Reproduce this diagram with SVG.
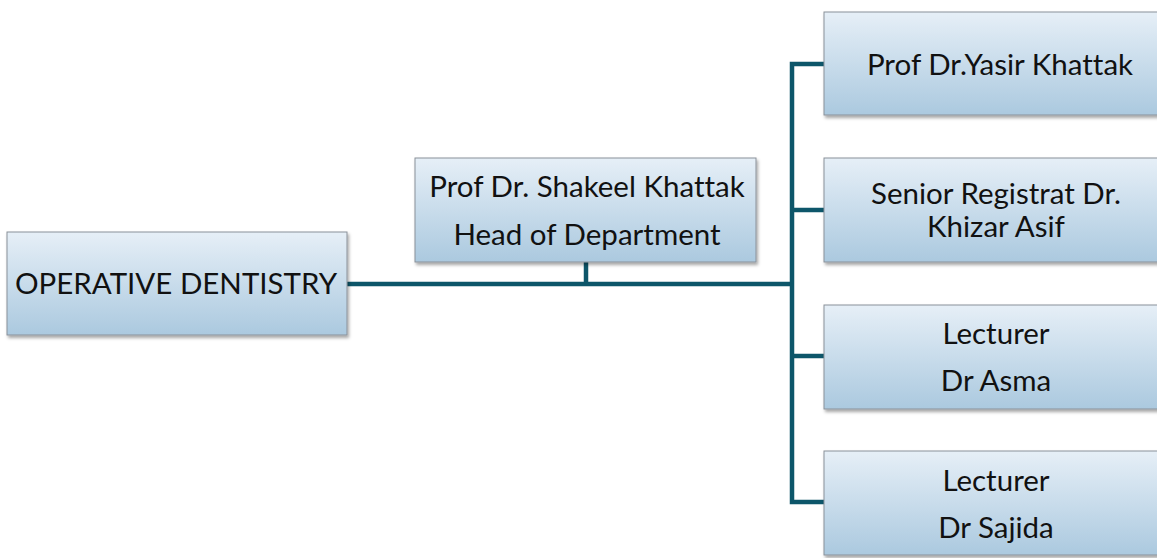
<svg xmlns="http://www.w3.org/2000/svg" width="1157" height="558" viewBox="0 0 1157 558">
<defs>
<linearGradient id="g" x1="0" y1="0" x2="0" y2="1">
<stop offset="0" stop-color="#e6eff7"/>
<stop offset="1" stop-color="#abc9df"/>
</linearGradient>
<filter id="sh" x="-10%" y="-10%" width="125%" height="130%">
<feDropShadow dx="1.5" dy="2.5" stdDeviation="1.5" flood-color="#000" flood-opacity="0.35"/>
</filter>
</defs>
<style>
.box{fill:url(#g);stroke:#8a9199;stroke-width:1;filter:url(#sh)}
.t{font-family:Lato,"Open Sans","Liberation Sans",sans-serif;font-size:29.5px;fill:#111;text-anchor:middle;font-variant-ligatures:none}
.c{fill:none;stroke:#0d566a;stroke-width:4.5;stroke-linejoin:miter}
</style>
<g id="connectors">
<path class="c" d="M347 284 H792"/>
<path class="c" d="M586 262 V284"/>
<path class="c" d="M824 64 H792 V502 H824"/>
<path class="c" d="M792 210 H824"/>
<path class="c" d="M792 356 H824"/>
</g>
<g id="n-operative">
<rect class="box" x="7" y="232" width="340" height="103"/>
<text class="t" x="176" y="294">OPERATIVE DENTISTRY</text>
</g>
<g id="n-head">
<rect class="box" x="415" y="158" width="341" height="104"/>
<text class="t" x="587" y="197">Prof Dr. Shakeel Khattak</text>
<text class="t" x="587" y="245">Head of Department</text>
</g>
<g id="n-yasir">
<rect class="box" x="824" y="12" width="340" height="103"/>
<text class="t" x="1000" y="75">Prof Dr.Yasir Khattak</text>
</g>
<g id="n-khizar">
<rect class="box" x="824" y="158" width="340" height="104"/>
<text class="t" x="996" y="204">Senior Registrat Dr.</text>
<text class="t" x="996" y="237">Khizar Asif</text>
</g>
<g id="n-asma">
<rect class="box" x="824" y="305" width="340" height="104"/>
<text class="t" x="996" y="344">Lecturer</text>
<text class="t" x="996" y="391">Dr Asma</text>
</g>
<g id="n-sajida">
<rect class="box" x="824" y="451" width="340" height="104"/>
<text class="t" x="996" y="491">Lecturer</text>
<text class="t" x="996" y="538">Dr Sajida</text>
</g>
</svg>
